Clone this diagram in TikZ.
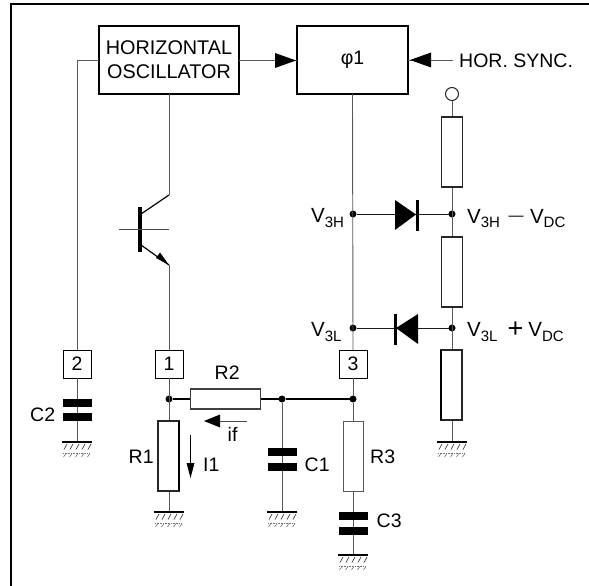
\documentclass[tikz,border=0pt]{standalone}
\usepackage{fontspec}
\setmainfont{Liberation Sans}
\newcommand{\fsz}[1]{\fontsize{#1}{#1}\selectfont}
\newcommand{\subsc}[1]{\raisebox{-4.5pt}{\fsz{15}#1}}
\tikzset{
  x=1pt,y=-1pt,
  wire/.style={draw=black!65,line width=0.9pt},
  bwire/.style={draw=black,line width=1.1pt},
  dwire/.style={draw=black!90,line width=0.8pt},
  res/.style={draw=black!85,line width=1.1pt,fill=white,minimum width=21pt,minimum height=70pt,inner sep=0,outer sep=0},
  hres/.style={draw=black!75,line width=1.1pt,fill=white,minimum width=70pt,minimum height=20pt,inner sep=0,outer sep=0},
  pin/.style={draw=black,line width=0.9pt,fill=white,minimum width=28pt,minimum height=28pt,inner sep=0,outer sep=0,font=\fsz{19.5}},
  blk/.style={draw=black,fill=white,inner sep=0,outer sep=0,align=center},
  lab/.style={inner sep=0,anchor=base west,font=\fsz{19.5}},
  dot/.style={circle,fill=black,minimum size=7pt,inner sep=0,outer sep=0},
}
\newcommand{\capv}[3]{%
  \fill (#1-14.5,#2) rectangle (#1+14.5,#2+8);
  \fill (#1-14.5,#2+#3) rectangle (#1+14.5,#2+#3+8);
}
\newcommand{\gnd}[2]{%
  \draw[black,line width=2.6pt] (#1-15,#2) -- (#1+15,#2);
  \draw[black!55,line width=0.6pt,densely dotted] (#1-14,#2+11.5) -- (#1+13,#2+11.5);
  \foreach \k in {-12,-6,0,6,12} {\draw[black!75,line width=0.7pt] (#1+\k-1,#2+7.5) -- (#1+\k+2,#2+2);\draw[black!55,line width=0.6pt] (#1+\k-1.5,#2+15) -- (#1+\k+1,#2+11.5);}
}
\begin{document}
\begin{tikzpicture}
\useasboundingbox (0,0) rectangle (589,586);
\draw[black,line width=2pt] (11,586) -- (11,4) -- (589,4);

% blocks
\node[blk,line width=2.8pt,minimum width=140pt,minimum height=68pt,font=\fsz{19.8}] (osc) at (169,60) {HORIZONTAL\\[4.5pt]OSCILLATOR};
\node[blk,line width=2.4pt,minimum width=111pt,minimum height=68pt,font=\fsz{19.5}] (phi) at (352.5,60) {φ1};

\coordinate (sync) at (453,60);
\node[lab] (synct) at (459,67.7) {HOR. SYNC.};
\node[pin] (p2) at (77,364) {2};
\node[pin] (p1) at (169,364) {1};
\node[pin] (p3) at (353,364) {3};

% transistor terminals and junctions
\coordinate (col) at (169,195);
\coordinate (emi) at (169,265);
\node[dot] (d3h) at (353,214) {};
\node[dot] (d3l) at (353,328) {};
\node[dot] (r3h) at (452,214) {};
\node[dot] (r3l) at (452,328) {};
\node[dot] (n1) at (169,399) {};
\node[dot] (n2) at (282,399) {};
\node[dot] (n3) at (353,399) {};
\coordinate (g2) at (77,442);
\coordinate (g1) at (169,512);
\coordinate (gc1) at (282,512);
\coordinate (gc3) at (353,555);
\coordinate (gr) at (452,442);
\coordinate (top) at (452,94);

% wires
\draw[wire] (osc.west) -- (77,60) -- (p2.north);
\draw[wire] (osc.east) -- (phi.west);
\draw[wire] (sync) -- (phi.east);
\draw[wire] (osc.south) -- (col);
\draw[wire] (phi.south) -- (p3.north);
\draw[wire] (p2.south) -- (g2);
\draw[wire] (emi) -- (p1.north);
\draw[wire] (p1.south) -- (g1);
\draw[wire] (n2) -- (gc1);
\draw[wire] (n3) -- (gc3);
\draw[wire] (p3.south) -- (n3);
\draw[wire] (top) -- (gr);
\draw[bwire] (n1) -- (n2) -- (n3);
\draw[dwire] (d3h) -- (r3h);
\draw[dwire] (d3l) -- (r3l);

% resistors
\node[hres] (r2) at (225.5,399) {};
\node[res] (r1) at (168.5,456) {};
\node[res,minimum width=20pt,draw=black!65,line width=1pt] (r3) at (353,456) {};
\node[res] (ra) at (452,152) {};
\node[res] (rb) at (452,272) {};
\node[res] (rc) at (451.5,385) {};
\draw[black,line width=1.4pt] (r1.north east) -- (r1.south east);
\draw[black,line width=1.4pt] (rc.north west) -- (rc.south west);

% open terminal
\node[circle,draw=black!85,line width=1pt,fill=white,minimum size=13pt,inner sep=0] (term) at (top) {};

% arrowheads on the block inputs
\fill (296,60.5) -- (275,53) -- (275,68) -- cycle;
\fill (410,60) -- (431,52.5) -- (431,67.5) -- cycle;

% diodes
\fill (395,200) -- (395,230) -- (416,214.5) -- cycle;
\draw[black,line width=3pt] (417,199.5) -- (417,230.5);
\fill (418,314) -- (418,344) -- (396,328) -- cycle;
\draw[black,line width=3pt] (395.5,313.5) -- (395.5,344.5);

% transistor
\draw[black,line width=3.2pt] (140,207) -- (140,252);
\draw[black!70,line width=0.9pt] (119,229.7) -- (169,229.7);
\draw[black,line width=1.2pt] (141,214) -- (col);
\draw[black,line width=1.2pt] (141,245) -- (emi);
\fill (emi) -- (156,258) -- (160,252.5) -- cycle;

% capacitors
\capv{77}{398.5}{14.5}
\capv{282}{448}{15}
\capv{353}{512}{14.5}

% ground
\gnd{77}{442}
\gnd{169}{512}
\gnd{282}{512}
\gnd{353}{555}
\gnd{452}{442}

% current arrows
\coordinate (ifs) at (247,421);
\coordinate (ife) at (215,421);
\draw[black!70,line width=0.9pt] (ifs) -- (ife);
\fill (204,421) -- (220,414.5) -- (220,427.5) -- cycle;
\coordinate (is) at (190.5,435);
\coordinate (ie) at (190.5,465);
\draw[black,line width=1.1pt] (is) -- (ie);
\fill (190.5,478) -- (186.5,463) -- (194.5,463) -- cycle;

% labels
\node[lab] (lc2) at (30,421) {C2};
\node[lab] (lr1) at (128.5,463) {R1};
\node[lab] (lr2) at (214.5,379) {R2};
\node[lab] (lc1) at (304.5,471) {C1};
\node[lab] (lr3) at (370,463.5) {R3};
\node[lab] (lc3) at (376.5,527) {C3};
\node[lab] (lif) at (227.5,441.7) {if};
\node[lab] (li1) at (203,471) {I1};
\node[lab] (v3h) at (311,222.7) {\fsz{20.5}V\subsc{3H}};
\node[lab] (v3l) at (311,336.7) {\fsz{20.5}V\subsc{3L}};
\node[lab] (vh) at (467,223) {\fsz{20.5}V\subsc{3H}\hspace{8.5pt}{\fsz{15}\raisebox{2.2pt}{—}}\hspace{6.5pt}V\subsc{DC}};
\node[lab] (vl) at (467,336.7) {\fsz{20.5}V\subsc{3L}\hspace{10pt}{\fsz{27}\raisebox{-1pt}{+}}\hspace{5pt}V\subsc{DC}};
\end{tikzpicture}
\end{document}
